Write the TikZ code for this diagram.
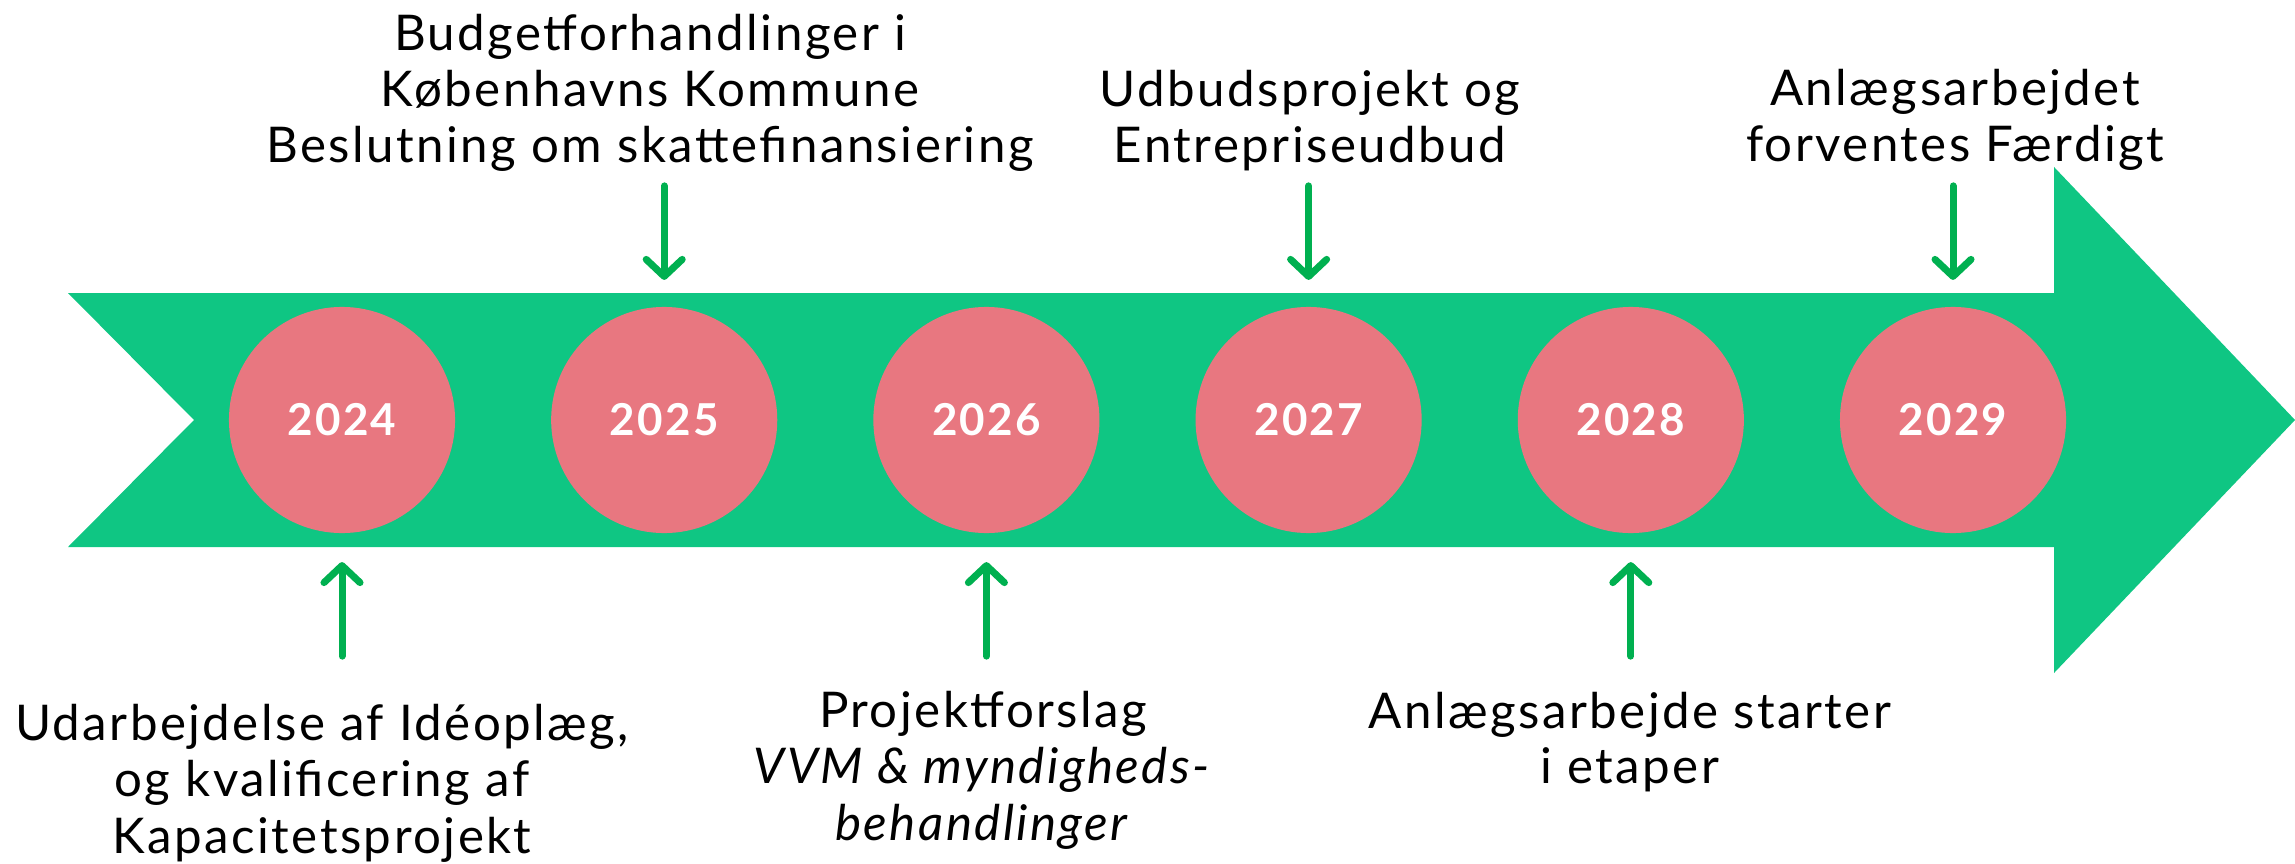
\documentclass[tikz,border=0pt]{standalone}
\usepackage{fontspec}
\setmainfont{Lato}[LetterSpace=5]
\usetikzlibrary{arrows.meta}
\definecolor{band}{HTML}{0FC683}
\definecolor{dot}{HTML}{E87780}
\definecolor{pil}{HTML}{00B050}
\begin{document}
\begin{tikzpicture}[x=.01cm, y=.01cm, >={Straight Barb[round, length=.17cm, width=.36cm]},
  year/.style={circle, fill=dot, minimum size=2.26cm, inner sep=0pt, text=white,
    font=\bfseries\fontsize{12.5}{14}\selectfont},
  lbl/.style={align=center, inner sep=0pt, anchor=base, font=\fontsize{14}{16}\selectfont},
  pil/.style={->, draw=pil, line width=.07cm, line cap=round}]
\useasboundingbox (0,0) rectangle (2295,863);
% the big arrow
\fill[band] (68,316)--(194,443)--(68,570)--(2054,570)--(2054,696)--(2295,443)
  --(2054,190)--(2054,316)--cycle;
\foreach \yr [count=\i from 0] in {2024,...,2029}
  \node[year] (y\yr) at (342+322.2*\i,443) {\yr};
% labels above
\node[lbl] (t2025) at (650,700) {Budgetforhandlinger i\\Københavns Kommune\\Beslutning om skattefinansiering};
\node[lbl] (t2027) at (1310,700) {Udbudsprojekt og\\Entrepriseudbud};
\node[lbl] (t2029) at (1955,701) {Anlægsarbejdet\\forventes Færdigt};
% labels below
\node[lbl] (t2024) at (322,10) {Udarbejdelse af Idéoplæg,\\og kvalificering af\\Kapacitetsprojekt};
\node[lbl] (t2026) at (983,23) {Projektforslag\\\textit{VVM \& myndigheds-}\\\textit{behandlinger}};
\node[lbl, font=\fontsize{14}{15.5}\selectfont] (t2028) at (1630,80) {Anlægsarbejde starter\\i etaper};
% arrows
\foreach \yr in {2025,2027,2029}{
  \coordinate (a\yr) at ([yshift=2.34cm]y\yr.center);
  \coordinate (b\yr) at ([yshift=1.40cm]y\yr.center);
  \draw[pil] (a\yr) -- (b\yr);
}
\foreach \yr in {2024,2026,2028}{
  \coordinate (a\yr) at ([yshift=-2.36cm]y\yr.center);
  \coordinate (b\yr) at ([yshift=-1.42cm]y\yr.center);
  \draw[pil] (a\yr) -- (b\yr);
}
\end{tikzpicture}
\end{document}
